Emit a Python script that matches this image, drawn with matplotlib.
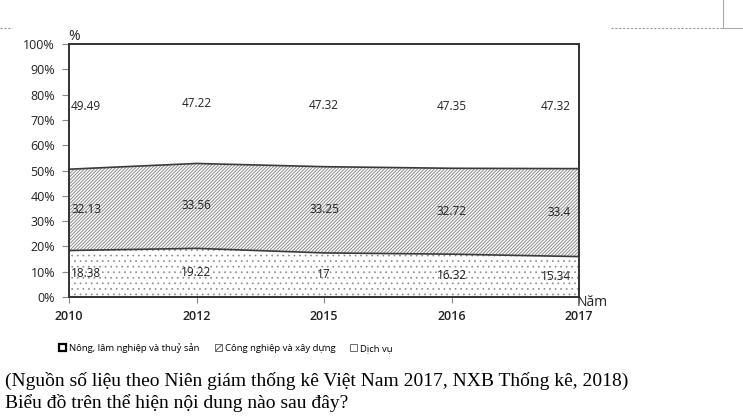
import matplotlib
matplotlib.use("Agg")
import matplotlib.pyplot as plt
import numpy as np
from matplotlib.patches import Patch
from matplotlib.lines import Line2D
from matplotlib.transforms import offset_copy

years = ['2010', '2012', '2015', '2016', '2017']
nong = [18.38, 19.22, 17, 16.32, 15.34]
cong = [32.13, 33.56, 33.25, 32.72, 33.4]
dich = [49.49, 47.22, 47.32, 47.35, 47.32]
yticks = [0, 10, 20, 30, 40, 50, 60, 70, 80, 90, 100]
legend_labels = ['Nông, lâm nghiệp và thuỷ sản', 'Công nghiệp và xây dựng', 'Dịch vụ']
source_text = '(Nguồn số liệu theo Niên giám thống kê Việt Nam 2017, NXB Thống kê, 2018)'
question_text = 'Biểu đồ trên thể hiện nội dung nào sau đây?'

sans = ['Open Sans', 'DejaVu Sans']

fig = plt.figure(figsize=(7.43, 4.17), dpi=100)
ax = fig.add_axes([69/743, 1-297/417, 510/743, 253/417])

x = np.arange(len(years))
raw = np.array([nong, cong, dich], dtype=float)
tot = raw.sum(axis=0)
pct = raw / tot * 100
c1 = pct[0]
c2 = pct[0] + pct[1]

plt.rcParams['hatch.linewidth'] = 0.5
ax.fill_between(x, 0, c1, facecolor='white', edgecolor='#8a8a8a', hatch='...', linewidth=0)
plt.rcParams['hatch.linewidth'] = 0.7
ax.fill_between(x, c1, c2, facecolor='white', edgecolor='#8a8a8a', hatch='//////////', linewidth=0)
ax.fill_between(x, c2, 100, facecolor='white', linewidth=0)
ax.plot(x, c1, color='#3a3a3a', lw=1.2)
ax.plot(x, c2, color='#3a3a3a', lw=1.2)

ax.set_xlim(0, len(years)-1)
ax.set_ylim(0, 100)
ax.set_yticks(yticks)
ax.set_yticklabels([f'{t}%' for t in yticks], fontsize=9, family=sans, color='#222222')
ax.set_xticks(x)
ax.set_xticklabels(years, fontsize=9, family=sans, fontweight='semibold', color='#222222')
ax.tick_params(axis='y', direction='out', length=5, width=0.8, color='#888888', pad=5)
ax.tick_params(axis='x', direction='out', length=4, width=0.8, color='#888888', pad=5)
for s in ax.spines.values():
    s.set_color('#333333')
    s.set_linewidth(1.4)

mids = [c1/2, (c1+c2)/2, (c2+100)/2]
for series, mid in zip(raw, mids):
    for i in range(len(years)):
        val = series[i]
        txt = f'{val:g}'
        if i == 0:
            tr = offset_copy(ax.transData, fig=fig, x=2, y=0, units='dots')
            ha = 'left'
        elif i == len(years)-1:
            tr = offset_copy(ax.transData, fig=fig, x=-8, y=0, units='dots')
            ha = 'right'
        else:
            tr = ax.transData
            ha = 'center'
        ax.text(x[i], mid[i], txt, transform=tr, ha=ha, va='center',
                fontsize=8.5, family=sans, color='#222222')

fig.text(68/743, 1-37/417, '%', fontsize=10, family=sans, ha='left', va='center', color='#222222')
fig.text(577/743, 1-302/417, 'Năm', fontsize=10, family=sans, ha='left', va='center', color='#222222')

handles = [Patch(facecolor='white', edgecolor='black', linewidth=1.6),
           Patch(facecolor='white', edgecolor='#555555', hatch='/////', linewidth=0.6),
           Patch(facecolor='white', edgecolor='#555555', linewidth=0.6)]
fig.legend(handles, legend_labels, loc='center', bbox_to_anchor=(226/743, 1-348/417),
           ncol=3, frameon=False, handlelength=0.75, handleheight=0.75, handletextpad=0.3,
           columnspacing=1.6, prop={'family': sans, 'size': 6.8})

fig.text(5/743, 1-381/417, source_text, fontsize=14, family='Liberation Serif',
         ha='left', va='center', color='black')
fig.text(5/743, 1-403/417, question_text, fontsize=14, family='Liberation Serif',
         ha='left', va='center', color='black')

# page artifacts
fig.add_artist(Line2D([0, 12/743], [1-28/417]*2, transform=fig.transFigure, color='#999999', lw=0.8, ls=(0, (2, 1.5))))
fig.add_artist(Line2D([611/743, 723/743], [1-28/417]*2, transform=fig.transFigure, color='#999999', lw=0.8, ls=(0, (2, 1.5))))
fig.add_artist(Line2D([723/743, 723/743], [1, 1-28/417], transform=fig.transFigure, color='#aaaaaa', lw=0.8))
fig.add_artist(Line2D([723/743, 1], [1-28/417]*2, transform=fig.transFigure, color='#aaaaaa', lw=0.8))

fig.savefig('out.png', dpi=100)
